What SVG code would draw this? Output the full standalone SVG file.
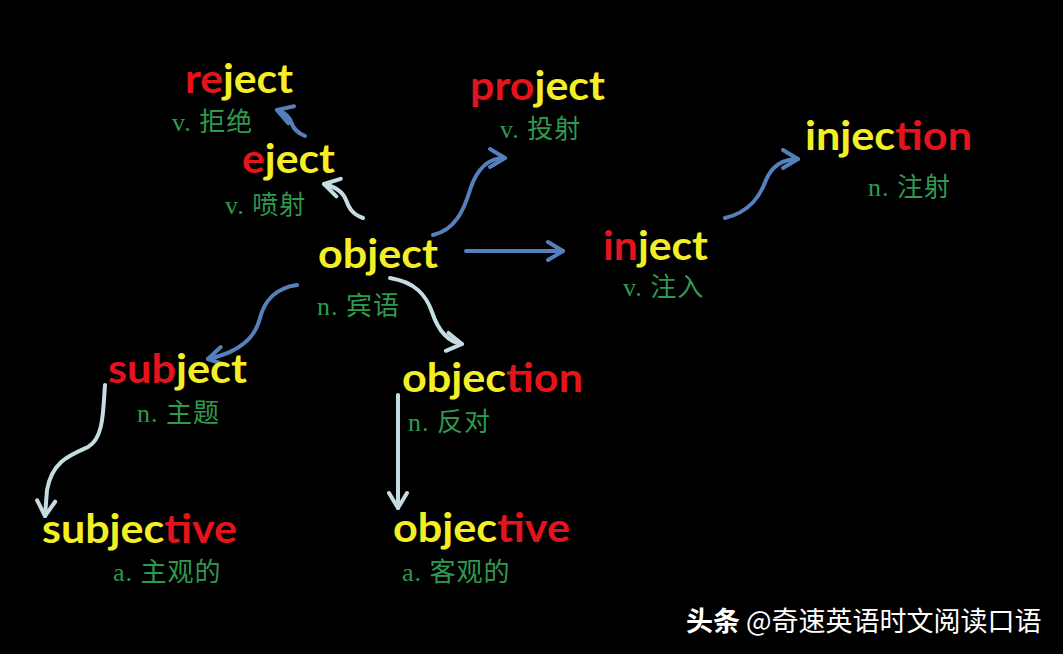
<svg xmlns="http://www.w3.org/2000/svg" width="1063" height="654" viewBox="0 0 1063 654">
<style>
.w{font-family:Lato,"Open Sans","Noto Sans CJK SC",sans-serif;font-weight:bold;font-size:40px}
.r{fill:#e3141c}
.y{fill:#f4ee26}
.g{font-family:"Liberation Serif","Noto Sans CJK SC",serif;font-size:26px;letter-spacing:1px;fill:#2e9a4e}
.b{fill:none;stroke:#5580bb;stroke-width:4;stroke-linecap:round}
.l{fill:none;stroke:#c4dce2;stroke-width:4;stroke-linecap:round}
.wm{font-family:"Noto Sans CJK SC",sans-serif;font-size:27px;fill:#ffffff}
</style>
<defs>
<marker id="mb" markerUnits="userSpaceOnUse" markerWidth="30" markerHeight="30" refX="0" refY="0" viewBox="-20 -15 25 30" orient="auto" overflow="visible">
<path d="M-15,-9 L0,0 L-15,9" fill="none" stroke="#5580bb" stroke-width="4" stroke-linecap="round" stroke-linejoin="round"/>
</marker>
<marker id="ml" markerUnits="userSpaceOnUse" markerWidth="30" markerHeight="30" refX="0" refY="0" viewBox="-20 -15 25 30" orient="auto" overflow="visible">
<path d="M-15,-9 L0,0 L-15,9" fill="none" stroke="#c4dce2" stroke-width="4" stroke-linecap="round" stroke-linejoin="round"/>
</marker>
</defs>
<rect width="1063" height="654" fill="#000"/>
<g id="connectors">
<path class="b" marker-end="url(#mb)" d="M305,136 C298,133 294,130 292,124 C290,117 286,113 277,110"/>
<path class="l" marker-end="url(#ml)" d="M363,218 C352,214 349,208 346,200 C343,192 336,187 324,184"/>
<path class="b" marker-end="url(#mb)" d="M433,235 C455,230 464,210 470,190 C477,168 488,158 505,158"/>
<path class="b" marker-end="url(#mb)" d="M466,251 L563,251"/>
<path class="b" marker-end="url(#mb)" d="M725,218 C750,212 760,196 766,180 C772,166 783,159 798,159"/>
<path class="b" marker-end="url(#mb)" d="M297,285 C275,288 264,302 260,318 C255,338 240,352 208,359"/>
<path class="l" marker-end="url(#ml)" d="M105,385 C103,410 104,438 88,447 C68,456 52,462 47,490 L45,516"/>
<path class="l" marker-end="url(#ml)" d="M390,278 C415,282 426,295 432,312 C438,330 448,342 462,344"/>
<path class="l" marker-end="url(#ml)" d="M398,395 L398,508"/>
</g>
<g id="reject">
<text class="w" x="185" y="93" textLength="108" lengthAdjust="spacingAndGlyphs"><tspan class="r">re</tspan><tspan class="y">ject</tspan></text>
<text class="g" x="172" y="131">v. 拒绝</text>
</g>
<g id="eject">
<text class="w" x="242" y="173" textLength="93" lengthAdjust="spacingAndGlyphs"><tspan class="r">e</tspan><tspan class="y">ject</tspan></text>
<text class="g" x="225" y="214">v. 喷射</text>
</g>
<g id="object">
<text class="w" x="318" y="268" textLength="120" lengthAdjust="spacingAndGlyphs"><tspan class="y">object</tspan></text>
<text class="g" x="317" y="315">n. 宾语</text>
</g>
<g id="project">
<text class="w" x="470" y="100" textLength="135" lengthAdjust="spacingAndGlyphs"><tspan class="r">pro</tspan><tspan class="y">ject</tspan></text>
<text class="g" x="500" y="138">v. 投射</text>
</g>
<g id="inject">
<text class="w" x="603" y="260" textLength="105" lengthAdjust="spacingAndGlyphs"><tspan class="r">in</tspan><tspan class="y">ject</tspan></text>
<text class="g" x="623" y="296">v. 注入</text>
</g>
<g id="injection">
<text class="w" x="805" y="150" textLength="167" lengthAdjust="spacingAndGlyphs"><tspan class="y">injec</tspan><tspan class="r">tion</tspan></text>
<text class="g" x="868" y="196">n. 注射</text>
</g>
<g id="subject">
<text class="w" x="108" y="383" textLength="139" lengthAdjust="spacingAndGlyphs"><tspan class="r">sub</tspan><tspan class="y">ject</tspan></text>
<text class="g" x="137" y="422">n. 主题</text>
</g>
<g id="subjective">
<text class="w" x="42" y="543" textLength="195" lengthAdjust="spacingAndGlyphs"><tspan class="y">subjec</tspan><tspan class="r">tive</tspan></text>
<text class="g" x="113" y="581">a. 主观的</text>
</g>
<g id="objection">
<text class="w" x="402" y="392" textLength="181" lengthAdjust="spacingAndGlyphs"><tspan class="y">objec</tspan><tspan class="r">tion</tspan></text>
<text class="g" x="408" y="431">n. 反对</text>
</g>
<g id="objective">
<text class="w" x="393" y="542" textLength="177" lengthAdjust="spacingAndGlyphs"><tspan class="y">objec</tspan><tspan class="r">tive</tspan></text>
<text class="g" x="402" y="581">a. 客观的</text>
</g>
<g id="watermark">
<text class="wm" x="686" y="631"><tspan font-weight="bold">头条</tspan> @奇速英语时文阅读口语</text>
</g>
</svg>
